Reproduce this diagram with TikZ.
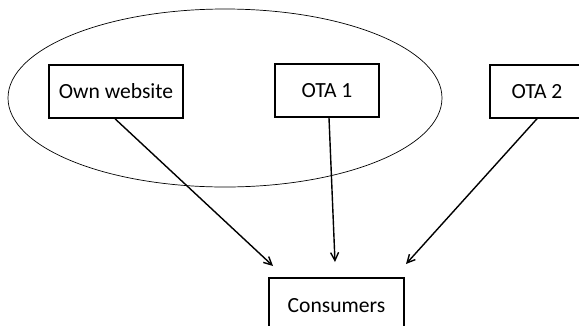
\documentclass[tikz,border=0pt]{standalone}
\usepackage{fontspec}
\setmainfont{Carlito}
\usetikzlibrary{arrows.meta}
\begin{document}
\begin{tikzpicture}[x=1pt,y=-1pt,
  box/.style={draw,line width=1.5pt,inner sep=0pt,font=\fontsize{21.6}{26}\selectfont},
  link/.style={line width=1.4pt,-{Straight Barb[length=8pt,width=8pt,line width=1.4pt]}}]
\useasboundingbox (0,0) rectangle (579,325);
\draw[line width=0.7pt] (225,98) ellipse [x radius=217, y radius=89];
\node[box,minimum width=134pt,minimum height=53pt] (own) at (116,91.5) {Own website};
\node[box,minimum width=104pt,minimum height=53pt] (ota1) at (327,90.5) {OTA 1};
\node[box,minimum width=94pt,minimum height=53pt] (ota2) at (537,91.5) {OTA 2};
\node[box,minimum width=135pt,minimum height=56pt] (cons) at (336.5,306) {Consumers};
\coordinate (e1) at (273,266);
\coordinate (e2) at (335,262);
\coordinate (e3) at (406,264);
\draw[link] ([xshift=-1pt]own.south) -- (e1);
\draw[link] ([xshift=2pt]ota1.south) -- (e2);
\draw[link] (ota2.south) -- (e3);
\end{tikzpicture}
\end{document}
